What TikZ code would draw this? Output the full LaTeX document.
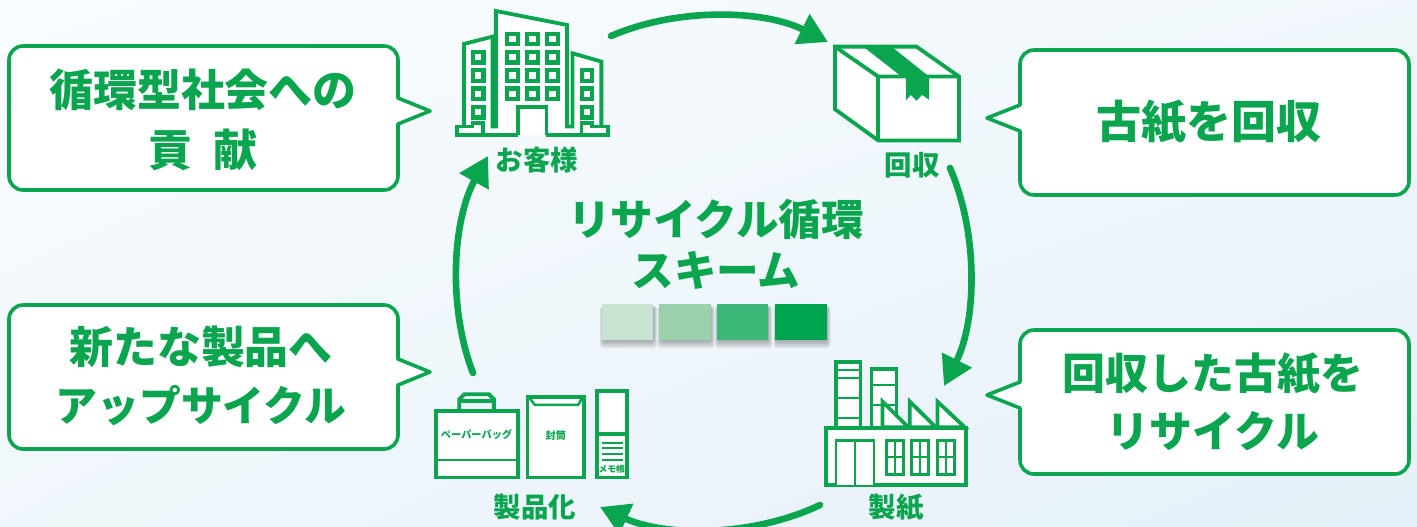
\documentclass[tikz,border=0pt]{standalone}
\usepackage{fontspec}
\usepackage{tikz}
\usetikzlibrary{arrows.meta, shadings}
\newfontfamily\cjk{Noto Sans CJK JP}

\definecolor{recygreen}{HTML}{0BA550}
\definecolor{swatchA}{HTML}{C9E4D2}
\definecolor{swatchB}{HTML}{9AD0AC}
\definecolor{swatchC}{HTML}{3DB878}
\definecolor{swatchD}{HTML}{00A44F}
\definecolor{paleback}{HTML}{F8FCFE}
\definecolor{deepback}{HTML}{E5F0F8}

\tikzset{
  bubble/.style={draw=recygreen, fill=white, line width=0.36mm, line join=round},
  bubbletext/.style={text=recygreen, align=center, font=\cjk\bfseries\fontsize{12.5}{17}\selectfont},
  titletext/.style={text=recygreen, align=center, font=\cjk\bfseries\fontsize{12.1}{14.6}\selectfont},
  iconlabel/.style={text=recygreen, font=\cjk\bfseries\fontsize{7.8}{9}\selectfont},
  tinylabel/.style={text=recygreen, font=\cjk\bfseries\fontsize{2.9}{3}\selectfont},
  icon/.style={draw=recygreen, fill=white, line width=0.38mm, line join=miter},
  thin icon/.style={draw=recygreen, line width=0.2mm},
  cycle arrow/.style={draw=recygreen, line width=0.66mm, line cap=round, looseness=0.85,
    -{Triangle[length=2.9mm, width=3.2mm]}},
  swatch/.style={minimum width=0.515cm, minimum height=0.36cm, inner sep=0pt}
}

\begin{document}
\begin{tikzpicture}[x=0.01cm, y=-0.01cm]

\useasboundingbox (0,0) rectangle (1417,526);
\shade[upper left=paleback, upper right=paleback!60!deepback, lower left=paleback!60!deepback, lower right=deepback] (0,0) rectangle (1417,526);

% bubbles
\draw[bubble, rounded corners=0.14cm] (9,118) |- (398,46) [sharp corners] -- (398,98) -- (430,111) -- (398,124) [rounded corners=0.14cm] -- (398,190) -| cycle;
\draw[bubble, rounded corners=0.14cm] (1409,122) |- (1020,50) [sharp corners] -- (1020,105) -- (987,118) -- (1020,131) [rounded corners=0.14cm] -- (1020,195) -| cycle;
\draw[bubble, rounded corners=0.14cm] (1409,402) |- (1020,330) [sharp corners] -- (1020,382) -- (987,395) -- (1020,408) [rounded corners=0.14cm] -- (1020,474) -| cycle;
\draw[bubble, rounded corners=0.14cm] (9,377) |- (398,305) [sharp corners] -- (398,359) -- (430,372) -- (398,385) [rounded corners=0.14cm] -- (398,449) -| cycle;

\node[bubbletext] (contribute) at (203,120) {循環型社会への\\貢\hspace{0.5em}献};
\node[bubbletext, font=\cjk\bfseries\fontsize{12.8}{17}\selectfont] (collect) at (1209,122) {古紙を回収};
\node[bubbletext, font=\cjk\bfseries\fontsize{12.2}{17}\selectfont] (recycle) at (1213,402) {回収した古紙を\\[-0.5pt]リサイクル};
\node[bubbletext] (upcycle) at (201,376) {新たな製品へ\\[-0.5pt]{\fontsize{11.9}{17}\selectfont アップサイクル}};

% centre
\node[titletext] (title) at (716,244) {リサイクル循環\\スキーム};
\foreach \x in {627.5, 685, 742.5, 801} {
\foreach \s in {1, 3, 5, 7} {
\fill[black, opacity=0.08, rounded corners=0.03cm] (\x-25-\s/3,306) rectangle (\x+26+\s/2,341+\s);
}
}
\node[swatch, fill=swatchA] (swA) at (627.5,322) {};
\node[swatch, fill=swatchB] (swB) at (685,322) {};
\node[swatch, fill=swatchC] (swC) at (742.5,322) {};
\node[swatch, fill=swatchD] (swD) at (801,322) {};

% labels
\node[iconlabel] (customer) at (537,160) {お客様};
\node[iconlabel] (box) at (912,165) {回収};
\node[iconlabel] (paper) at (896,507) {製紙};
\node[iconlabel] (product) at (535,507) {製品化};

% building
\begin{scope}[shift={(420,0)}, x=0.00333cm, y=-0.00333cm]
\fill[white] (132,405) -- (132,132) -- (228,110) -- (228,33) -- (442,75) -- (442,160) -- (545,185) -- (545,405) -- cycle;
\draw[icon, fill=none] (132,380) -- (132,132) -- (218,110) -- (218,380) -- (228,380) -- (228,33) -- (442,75) -- (442,380) -- (458,380) -- (458,160) -- (545,185) -- (545,380);
\draw[icon, fill=none] (295,405) -- (112,405) -- (112,380) -- (158,380) -- (158,370) -- (190,370) -- (190,405);
\draw[icon, fill=none] (380,405) -- (565,405) -- (565,380) -- (518,380) -- (518,370) -- (485,370) -- (485,405);
\draw[icon, fill=none] (295,405) -- (295,322) -- (380,322) -- (380,405);
\foreach \x in {278, 338, 398} {
\foreach \y in {117, 172, 227, 282} {
\draw[icon, line width=0.42mm] (\x-16,\y-16) rectangle (\x+16,\y+16);
}
}
\foreach \y in {172, 227, 282, 337} {
\draw[icon, line width=0.42mm] (175-16,\y-16) rectangle (175+16,\y+16);
}
\foreach \y in {227, 282, 337} {
\draw[icon, line width=0.42mm] (502-16,\y-16) rectangle (502+16,\y+16);
}
\end{scope}

% cardboard box
\begin{scope}[shift={(810,20)}, x=0.00333cm, y=-0.00333cm]
\draw[icon] (75,80) -- (320,80) -- (448,170) -- (448,362) -- (205,362) -- (75,268) -- cycle;
\draw[icon, fill=none] (75,80) -- (205,170) -- (448,170);
\draw[icon, fill=none] (205,170) -- (205,362);
\fill[recygreen] (160,80) -- (245,80) -- (358,170) -- (358,240) -- (337,225) -- (320,242) -- (303,225) -- (288,242) -- (288,170) -- (275,170) -- cycle;
\end{scope}

% factory
\begin{scope}[shift={(810,350)}, x=0.00333cm, y=-0.00333cm]
\draw[icon] (78,235) -- (78,35) -- (152,35) -- (152,235);
\draw[thin icon] (78,60) -- (152,60) (78,85) -- (152,85) (78,143) -- (152,143) (78,205) -- (152,205);
\draw[icon] (185,235) -- (185,58) -- (260,58) -- (260,235);
\draw[thin icon] (185,105) -- (260,105) (185,165) -- (260,165);
\draw[icon] (218,232) -- (218,155) -- (295,232) -- cycle;
\draw[icon] (300,232) -- (300,155) -- (378,232) -- cycle;
\draw[icon] (383,232) -- (383,155) -- (465,232) -- cycle;
\draw[icon] (48,235) rectangle (468,405);
\draw[icon, line width=0.28mm] (78,405) -- (78,272) -- (192,272) -- (192,405);
\draw[thin icon, line width=0.28mm] (135,272) -- (135,405);
\foreach \x in {230, 306, 382} {
\draw[icon, line width=0.28mm] (\x,272) rectangle (\x+51,375);
\draw[thin icon] (\x+25.5,272) -- (\x+25.5,375) (\x,320) -- (\x+51,320);
}
\end{scope}

% products
\begin{scope}[shift={(420,380)}, x=0.00333cm, y=-0.00333cm]
\draw[icon, fill=none] (118,92) -- (118,58) -- (133,43) -- (207,43) -- (222,58) -- (222,92);
\draw[icon, fill=none] (118,62) -- (222,62);
\draw[icon] (48,92) rectangle (295,293);
\draw[icon, fill=none, line width=0.25mm] (48,240) -- (295,240);
\draw[icon] (323,50) rectangle (493,293);
\draw[icon, fill=none, line width=0.25mm] (330,55) -- (345,75) -- (475,75) -- (487,55);
\draw[icon] (532,33) rectangle (622,293);
\draw[icon, fill=none] (532,162) -- (622,162);
\foreach \y in {188, 205, 222, 240} {
\draw[thin icon] (548,\y) -- (610,\y);
}
\node[tinylabel] (bag) at (170,165) {ペーパーバッグ};
\node[tinylabel] (envelope) at (408,168) {封筒};
\node[tinylabel, font=\cjk\bfseries\fontsize{2.5}{3}\selectfont] (memo) at (576,268) {メモ帳};
\end{scope}

% arrows
\coordinate (a1) at (611,36);
\coordinate (a2) at (828,42);
\coordinate (b1) at (950,168);
\coordinate (b2) at (944,386);
\coordinate (c1) at (820,505);
\coordinate (c2) at (600,507);
\coordinate (d1) at (473,373);
\coordinate (d2) at (488,156);
\draw[cycle arrow] (a1) to[bend left=25] (a2);
\draw[cycle arrow] (b1) to[bend left=25] (b2);
\draw[cycle arrow] (c1) to[bend left=25] (c2);
\draw[cycle arrow] (d1) to[bend left=25] (d2);

\end{tikzpicture}
\end{document}
